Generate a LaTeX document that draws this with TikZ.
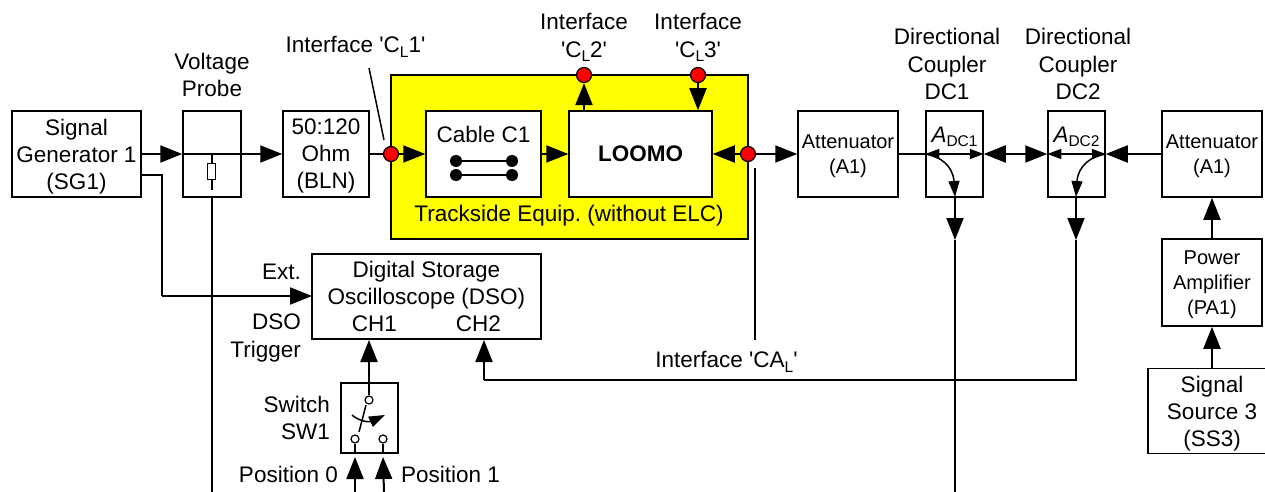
\documentclass[tikz,border=0pt]{standalone}
\usepackage{fontspec}
\setmainfont{Liberation Sans}
\usepackage{tikz}
\usetikzlibrary{arrows.meta,calc}
\selectcolormodel{rgb}
\definecolor{equipyellow}{rgb}{1,1,0}
\definecolor{portred}{rgb}{1,0,0}
\newcommand{\lowtxt}[1]{\raisebox{-0.2em}{\fontsize{15.5}{16}\selectfont #1}}
\newcommand{\qt}{\textquotesingle}
\frenchspacing
\tikzset{
    blockbox/.style={draw, line width=1.5pt, fill=white, align=center, inner sep=0pt, text depth=0pt, font=\fontsize{22.5}{27}\selectfont},
    smallbox/.style={blockbox, font=\fontsize{20}{25}\selectfont},
    lbl/.style={align=center, inner sep=0pt, font=\fontsize{22.5}{27.5}\selectfont},
    port/.style={circle, draw, line width=1.2pt, fill=portred, minimum size=15pt, inner sep=0pt},
    pin/.style={circle, draw, line width=1.2pt, fill=white, minimum size=8pt, inner sep=0pt},
    wire/.style={line width=2pt},
    sig/.style={wire, -{Triangle[length=22pt,width=17pt]}},
    sigboth/.style={wire, {Triangle[length=22pt,width=17pt]}-{Triangle[length=22pt,width=17pt]}},
    tap/.style={line width=1.5pt, -{Triangle[length=16pt,width=11pt]}},
    tapboth/.style={line width=1.5pt, {Triangle[length=14pt,width=10pt]}-{Triangle[length=14pt,width=10pt]}},
}
\begin{document}
\begin{tikzpicture}[x=1pt,y=-1pt]
            \useasboundingbox (0,0) rectangle (1265,492);

            % yellow equipment box
            \node[draw, line width=1.5pt, fill=equipyellow, minimum width=357pt, minimum height=164pt] (equip) at (569.5,157) {};
            \node[lbl] (equiplabel) at (569,216) {Trackside Equip. (without ELC)};

            % top row
            \node[blockbox, minimum width=129pt, minimum height=86pt] (sg) at (76.5,154) {Signal\\Generator 1\\(SG1)};
            \node[blockbox, minimum width=58pt, minimum height=86pt] (probe) at (212,154) {};
            \node[blockbox, minimum width=86pt, minimum height=86pt] (bln) at (326,154) {50:120\\Ohm\\(BLN)};
            \node[blockbox, minimum width=115pt, minimum height=86pt, text depth=40pt] (cable) at (483.5,154) {Cable C1};
            \node[blockbox, minimum width=143pt, minimum height=86pt] (loomo) at (640.5,154) {\textbf{LOOMO}};
            \node[smallbox, minimum width=100pt, minimum height=86pt] (att) at (848,154) {Attenuator\\(A1)};
            \node[blockbox, minimum width=57pt, minimum height=86pt] (dca) at (954.5,154) {};
            \node[blockbox, minimum width=57pt, minimum height=86pt] (dcb) at (1076.5,154) {};
            \node[smallbox, minimum width=100pt, minimum height=86pt] (attb) at (1212,154) {Attenuator\\(A1)};

            % right column
            \node[smallbox, minimum width=100pt, minimum height=87pt] (pa) at (1212,282.5) {Power\\Amplifier\\(PA1)};
            \node[blockbox, minimum width=128pt, minimum height=85pt] (ss) at (1212,411) {Signal\\Source 3\\(SS3)};

            % oscilloscope and switch
            \node[blockbox, minimum width=229pt, minimum height=85pt] (dso) at (426.5,296.5) {Digital Storage\\Oscilloscope (DSO)\\CH1\hspace{59pt}CH2};
            \node[blockbox, minimum width=57pt, minimum height=70pt] (sw) at (369.5,418) {};

            % labels
            \node[lbl] (lprobe) at (212,75) {Voltage\\Probe};
            \node[lbl] (lclone) at (355.5,47) {Interface \qt C\lowtxt{L}1\qt};
            \node[lbl] (lcltwo) at (584,37.5) {Interface\\\qt C\lowtxt{L}2\qt};
            \node[lbl] (lclthree) at (698,37.5) {Interface\\\qt C\lowtxt{L}3\qt};
            \node[lbl] (ldca) at (947,64) {Directional\\Coupler\\DC1};
            \node[lbl] (ldcb) at (1078,64) {Directional\\Coupler\\DC2};
            \node[lbl] (lcal) at (726.5,362) {Interface \qt CA\lowtxt{L}\qt};
            \node[lbl, anchor=east] (lext) at (301,272) {Ext.};
            \node[lbl, anchor=east, align=right] (ltrig) at (301,338) {DSO\\Trigger};
            \node[lbl, anchor=east, align=right] (lsw) at (330,418) {Switch\\SW1};
            \node[lbl, anchor=east] (lposa) at (338,474) {Position 0};
            \node[lbl, anchor=west] (lposb) at (401,474) {Position 1};
            \node[lbl] (ladca) at (954.5,137) {\textit{A}\lowtxt{DC1}};
            \node[lbl] (ladcb) at (1076.5,137) {\textit{A}\lowtxt{DC2}};

            % interface points
            \node[port] (pone) at (391,154) {};
            \node[port] (ptwo) at (584,75) {};
            \node[port] (pthree) at (698,75) {};
            \node[port] (pfour) at (748,154) {};

            % free ends
            \coordinate (sgtrig) at (141,175);
            \coordinate (trigbend) at (162,175);
            \coordinate (dsoext) at (312,296);
            \coordinate (probeend) at (212,492);
            \coordinate (posaend) at (355,492);
            \coordinate (posbend) at (384,492);
            \coordinate (dcaend) at (955,492);
            \coordinate (dcaout) at (955,197);
            \coordinate (dcbout) at (1076,197);
            \coordinate (dcbbend) at (1076,380);
            \coordinate (chtwo) at (484,340);
            \coordinate (lineclone) at (369,68);
            \coordinate (linecltip) at (384,140);
            \coordinate (linecal) at (755,168);
            \coordinate (linecalend) at (755,340);

            % signal path
            \draw[sig] (sg.east) -- (probe.west);
            \draw[wire] (probe.west) -- (probe.east);
            \draw[sig] (probe.east) -- (bln.west);
            \draw[wire] (bln.east) -- (pone);
            \draw[sig] (pone) -- (cable.west);
            \draw[sig] (cable.east) -- (loomo.west);
            \draw[sig] (loomo.north -| ptwo) -- (ptwo);
            \draw[sig] (pthree) -- (loomo.north -| pthree);
            \draw[sig] (pfour) -- (loomo.east);
            \draw[sig] (pfour) -- (att.west);
            \draw[wire] (att.east) -- (dca.west);
            \draw[sigboth] (dca.east) -- (dcb.west);
            \draw[sig] (attb.west) -- (dcb.east);
            \draw[sig] (pa.north) -- (attb.south);
            \draw[sig] (ss.north -| pa) -- (pa.south);

            % cable symbol
            \foreach \ypos in {161,175} {
                \draw[wire] (456,\ypos) -- (512,\ypos);
                \fill (456,\ypos) circle (6pt);
                \fill (512,\ypos) circle (6pt);
            }

            % voltage probe symbol
            \draw[wire] (212,154) -- (212,190);
            \draw[line width=1.5pt, fill=white] (207.5,163.5) rectangle (215.5,179.5);
            \draw[wire] (probe.south) -- (probeend);

            % inside the couplers
            \draw[tapboth] (dca.west) -- (dca.east);
            \draw[tapboth] (dcb.west) -- (dcb.east);
            \draw[tap] (dca.west) .. controls (940,156) and (953,166) .. (dcaout);
            \draw[tap] (dcb.east) .. controls (1091,156) and (1078,166) .. (dcbout);

            % coupler outputs
            \draw[sig] (dcaout) -- (955,240);
            \draw[wire] (955,240) -- (dcaend);
            \draw[sig] (dcbout) -- (1076,240);
            \draw[wire] (1076,240) -- (dcbbend) -- (484,380);
            \draw[sig] (484,380) -- (chtwo);

            % trigger line
            \draw[wire] (sgtrig) -- (trigbend) -- (162,296);
            \draw[sig] (162,296) -- (dsoext);

            % pointer lines
            \draw[line width=1.5pt] (lineclone) -- (linecltip);
            \draw[line width=1.5pt] (linecal) -- (linecalend);

            % switch
            \node[pin] (swtop) at (369,400) {};
            \node[pin] (swa) at (355,439) {};
            \node[pin] (swb) at (383,439) {};
            \draw[sig] (swtop) -- (369,340);
            \draw[line width=1.5pt] (366,405) -- (359,432);
            \draw[line width=1.5pt] (sw.south -| swa) -- (swa);
            \draw[line width=1.5pt] (sw.south -| swb) -- (swb);
            \draw[tap] (352,415) .. controls (360,422) and (370,422) .. (385,415);
            \draw[sig] (posaend) -- (355,457);
            \draw[sig] (posbend) -- (383,457);
        \end{tikzpicture}
\end{document}
